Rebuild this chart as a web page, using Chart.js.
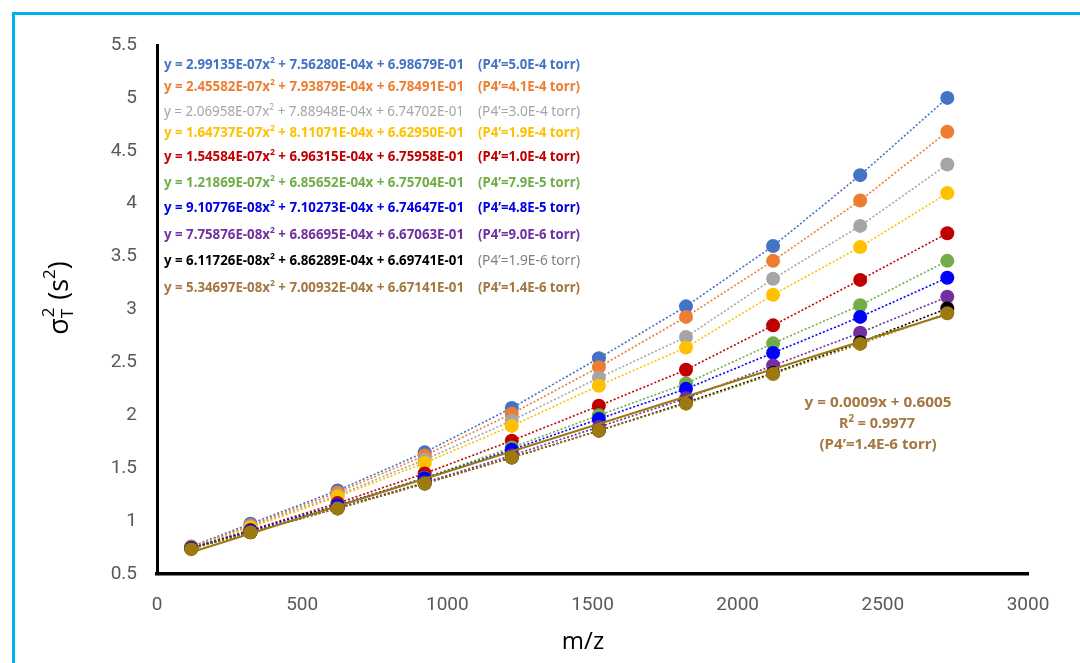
<!DOCTYPE html>
<html>
<head>
<meta charset="utf-8">
<script src="https://cdn.jsdelivr.net/npm/chart.js@4.4.1/dist/chart.umd.min.js"></script>
<style>
  html, body { margin: 0; padding: 0; background: #fff; }
  #wrap { position: relative; width: 1080px; height: 663px; overflow: hidden; }
  #frame { position: absolute; left: 12px; top: 12px; right: -10px; bottom: -10px;
           border-left: 3px solid #00B4E4; border-top: 3px solid #00B4E4; }
  canvas { position: absolute; left: 0; top: 0; }
</style>
</head>
<body>
<div id="wrap">
  <div id="frame"></div>
  <canvas id="c" width="1080" height="663"></canvas>
</div>
<script>
// m/z of the tune-mix ions (x values)
var mz = [118, 322, 622, 922, 1222, 1522, 1822, 2122, 2422, 2722];

// sigma_T^2 (s^2) per P4' pressure
var p50E4 = [0.76, 0.975, 1.29, 1.65, 2.07, 2.54, 3.03, 3.60, 4.27, 5.00];
var p41E4 = [0.755, 0.96, 1.27, 1.62, 2.015, 2.455, 2.93, 3.46, 4.03, 4.68];
var p30E4 = [0.75, 0.95, 1.245, 1.58, 1.95, 2.355, 2.74, 3.29, 3.79, 4.37];
var p19E4 = [0.745, 0.94, 1.23, 1.55, 1.90, 2.28, 2.64, 3.14, 3.59, 4.10];
var p10E4 = [0.745, 0.915, 1.17, 1.45, 1.76, 2.09, 2.43, 2.85, 3.28, 3.72];
var p79E5 = [0.745, 0.91, 1.15, 1.41, 1.695, 2.00, 2.30, 2.68, 3.04, 3.46];
var p48E5 = [0.745, 0.91, 1.15, 1.405, 1.675, 1.965, 2.25, 2.59, 2.93, 3.30];
var p90E6 = [0.74, 0.895, 1.125, 1.365, 1.62, 1.89, 2.16, 2.47, 2.78, 3.12];
var p19E6 = [0.74, 0.895, 1.12, 1.355, 1.60, 1.855, 2.12, 2.40, 2.69, 3.01];
var p14E6 = [0.735, 0.895, 1.12, 1.355, 1.60, 1.855, 2.11, 2.39, 2.675, 2.965];

// linear trendline for the lowest pressure, end points
var linX = [118, 2722];
var linY = [0.705, 2.955];

var xTicks = [0, 500, 1000, 1500, 2000, 2500, 3000];
var yTicks = [0.5, 1, 1.5, 2, 2.5, 3, 3.5, 4, 4.5, 5, 5.5];

var seriesData = [p50E4, p41E4, p30E4, p19E4, p10E4, p79E5, p48E5, p90E6, p19E6, p14E6];
var pressLabels = ['5.0E-4', '4.1E-4', '3.0E-4', '1.9E-4', '1.0E-4', '7.9E-5', '4.8E-5', '9.0E-6', '1.9E-6', '1.4E-6'];
var eqA = ['2.99135E-07', '2.45582E-07', '2.06958E-07', '1.64737E-07', '1.54584E-07',
           '1.21869E-07', '9.10776E-08', '7.75876E-08', '6.11726E-08', '5.34697E-08'];
var eqB = ['7.56280E-04', '7.93879E-04', '7.88948E-04', '8.11071E-04', '6.96315E-04',
           '6.85652E-04', '7.10273E-04', '6.86695E-04', '6.86289E-04', '7.00932E-04'];
var eqC = ['6.98679E-01', '6.78491E-01', '6.74702E-01', '6.62950E-01', '6.75958E-01',
           '6.75704E-01', '6.74647E-01', '6.67063E-01', '6.69741E-01', '6.67141E-01'];

var pointColors = ['#4472C4', '#ED7D31', '#A5A5A5', '#FFC000', '#C00000',
                   '#70AD47', '#0000FF', '#7030A0', '#000000', '#9C7A10'];
var textColors = ['#4472C4', '#ED7D31', '#A5A5A5', '#FFC000', '#C00000',
                  '#70AD47', '#0000E6', '#7030A0', '#000000', '#A3773F'];
var pressColors = textColors.slice();
pressColors[8] = '#808080';
var eqRowY = [65, 87, 112, 133, 157, 183, 208, 235, 261, 288];

var datasets = seriesData.map(function (vals, i) {
  return {
    label: "P4'=" + pressLabels[i] + ' torr',
    data: mz.map(function (x, k) { return { x: x, y: vals[k] }; }),
    showLine: true,
    borderColor: pointColors[i],
    borderWidth: 1.6,
    borderDash: [2, 2],
    backgroundColor: pointColors[i],
    pointBackgroundColor: pointColors[i],
    pointBorderColor: pointColors[i],
    pointRadius: 7,
    pointBorderWidth: 0,
    order: 10 - i + 1
  };
});
datasets.push({
  label: 'linear fit',
  data: linX.map(function (x, k) { return { x: x, y: linY[k] }; }),
  showLine: true,
  borderColor: '#9C7A10',
  borderWidth: 2,
  pointRadius: 0,
  order: 0
});

// draws text with "^2" turned into a superscript, squeezed to a target width
function richText(ctx, str, x, y, font, supFont, color, width, align) {
  var parts = str.split('^2');
  ctx.save();
  ctx.fillStyle = color;
  ctx.textBaseline = 'middle';
  ctx.textAlign = 'left';
  var widths = [];
  var total = 0;
  parts.forEach(function (p, i) {
    ctx.font = font;
    var w = ctx.measureText(p).width;
    widths.push(w); total += w;
    if (i < parts.length - 1) { ctx.font = supFont; total += ctx.measureText('2').width; }
  });
  var k = width ? width / total : 1;
  var x0 = align === 'center' ? x - total * k / 2 : x;
  ctx.translate(x0, y);
  ctx.scale(k, 1);
  var cx = 0;
  parts.forEach(function (p, i) {
    ctx.font = font;
    ctx.fillText(p, cx, 0);
    cx += widths[i];
    if (i < parts.length - 1) {
      ctx.font = supFont;
      ctx.fillText('2', cx, -5);
      cx += ctx.measureText('2').width;
    }
  });
  ctx.restore();
}

var labelsPlugin = {
  id: 'labels',
  afterDraw: function (chart) {
    var ctx = chart.ctx;
    for (var i = 0; i < eqA.length; i++) {
      var wt = i === 2 ? '' : 'bold ';
      richText(ctx, 'y = ' + eqA[i] + 'x^2 + ' + eqB[i] + 'x + ' + eqC[i], 164, eqRowY[i],
        wt + '14px "Noto Sans"', wt + '9px "Noto Sans"', textColors[i], 300);
      var pw = (i === 2 || i === 8) ? '' : 'bold ';
      richText(ctx, '(P4\u2019=' + pressLabels[i] + ' torr)', 478, eqRowY[i],
        pw + '14px "Noto Sans"', pw + '9px "Noto Sans"', pressColors[i], 102);
    }
    // linear fit annotation
    var lc = '#A3773F';
    richText(ctx, 'y = 0.0009x + 0.6005', 878, 403, 'bold 15px "Noto Sans"', 'bold 9px "Noto Sans"', lc, 147, 'center');
    richText(ctx, 'R^2 = 0.9977', 877, 424, 'bold 15px "Noto Sans"', 'bold 10px "Noto Sans"', lc, 76, 'center');
    richText(ctx, '(P4\u2019=1.4E-6 torr)', 878, 445, 'bold 15px "Noto Sans"', 'bold 9px "Noto Sans"', lc, 117, 'center');

    // axis titles
    ctx.save();
    ctx.fillStyle = '#000';
    ctx.textBaseline = 'middle';
    ctx.textAlign = 'center';
    ctx.font = '24px "Open Sans"';
    ctx.fillText('m/z', 583, 642);

    ctx.translate(60, 298);
    ctx.rotate(-Math.PI / 2);
    ctx.textAlign = 'left';
    var big = '27px "Open Sans"', small = '17px "Open Sans"';
    ctx.font = big; var w1 = ctx.measureText('\u03C3').width;
    ctx.font = small; var w2 = ctx.measureText('T').width;
    ctx.font = big; var w3 = ctx.measureText(' (s').width;
    ctx.font = small; var w4 = ctx.measureText('2').width;
    ctx.font = big; var w5 = ctx.measureText(')').width;
    var sx = -(w1 + w2 + 2 + w3 + w4 + w5) / 2;
    ctx.font = big; ctx.fillText('\u03C3', sx, 0); sx += w1;
    ctx.font = small; ctx.fillText('T', sx, 8); ctx.fillText('2', sx + 1, -11); sx += w2 + 2;
    ctx.font = big; ctx.fillText(' (s', sx, 0); sx += w3;
    ctx.font = small; ctx.fillText('2', sx, -10); sx += w4;
    ctx.font = big; ctx.fillText(')', sx, 0);
    ctx.restore();
  }
};

function plainTick(v) { return String(v); }

new Chart(document.getElementById('c'), {
  type: 'scatter',
  data: { datasets: datasets },
  options: {
    responsive: false,
    animation: false,
    layout: { padding: { left: 0, top: 45, right: 52, bottom: 0 } },
    plugins: { legend: { display: false }, tooltip: { enabled: false } },
    scales: {
      x: {
        type: 'linear', min: 0, max: 3000,
        afterBuildTicks: function (s) { s.ticks = xTicks.map(function (v) { return { value: v }; }); },
        afterFit: function (s) { s.height = 89; },
        grid: { display: false, drawTicks: false },
        border: { color: '#000', width: 3.5 },
        ticks: { color: '#595959', font: { family: 'Roboto', size: 19 }, padding: 20, maxRotation: 0,
                 autoSkip: false, callback: plainTick }
      },
      y: {
        type: 'linear', min: 0.5, max: 5.5,
        afterBuildTicks: function (s) { s.ticks = yTicks.map(function (v) { return { value: v }; }); },
        afterFit: function (s) { s.width = 157; },
        grid: { display: false, drawTicks: false },
        border: { color: '#000', width: 3 },
        ticks: { color: '#595959', font: { family: 'Roboto', size: 19 }, padding: 20, autoSkip: false,
                 callback: plainTick }
      }
    }
  },
  plugins: [labelsPlugin]
});
</script>
</body>
</html>
